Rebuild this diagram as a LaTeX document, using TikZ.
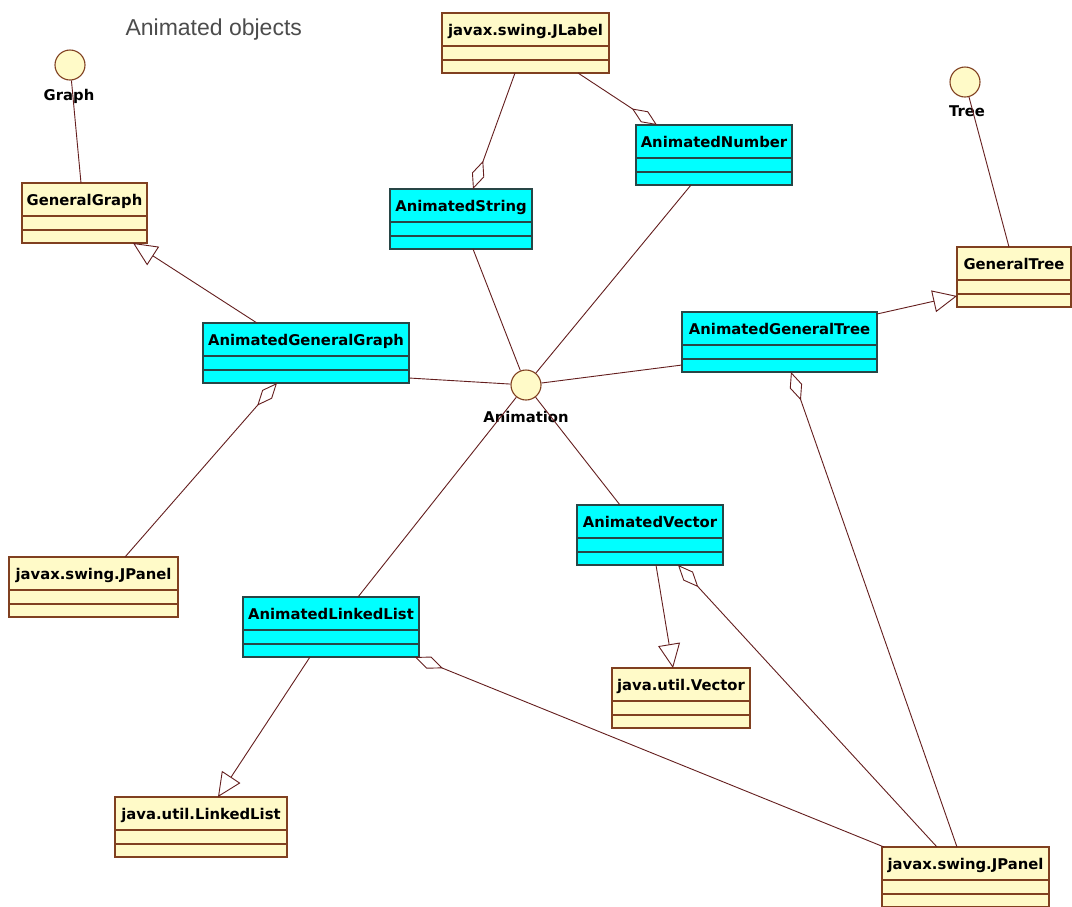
\documentclass[tikz,border=0pt]{standalone}
\usepackage{fontspec}
\setmainfont{DejaVu Sans}
\newfontfamily\titlefont{Liberation Sans}
\usetikzlibrary{arrows.meta,calc}
\definecolor{umlyellow}{RGB}{255,250,200}
\definecolor{umlcyan}{RGB}{0,255,255}
\definecolor{ybord}{RGB}{128,64,32}
\definecolor{cbord}{RGB}{40,70,70}
\definecolor{conn}{RGB}{100,30,30}
\tikzset{
  connline/.style={draw=conn, line width=0.9pt},
  gen/.style={connline, -{Triangle[open,length=24pt,width=22pt]}},
  agg/.style={connline, {Diamond[open,length=30pt,width=13pt]}-},
  iface/.style={circle, draw=ybord, fill=umlyellow, line width=1.1pt, minimum size=30pt, inner sep=0pt},
  lbl/.style={font=\bfseries\fontsize{14.8}{17}\selectfont, anchor=base},
}
% name, fill, border, x, y, width, text
\newcommand\umlbox[7]{%
  \node[draw=#3, fill=#2, line width=1.2pt, minimum width=#6pt, minimum height=60pt,
        anchor=north west, inner sep=0pt, outer sep=0pt] (#1) at (#4,#5) {};
  \node[lbl] at ([yshift=-22pt]#1.north) {#7};
  \draw[#3, line width=1.2pt] ([yshift=-33pt]#1.north west) -- ([yshift=-33pt]#1.north east);
  \draw[#3, line width=1.2pt] ([yshift=-47pt]#1.north west) -- ([yshift=-47pt]#1.north east);
}
\begin{document}
\begin{tikzpicture}[x=1pt,y=-1pt]
\fill[white] (0,0) rectangle (1072,906);
\useasboundingbox (0,0) rectangle (1072,906);

\node[anchor=base west, font=\titlefont\fontsize{23}{26}\selectfont, text=black!70] (title) at (122,35) {Animated objects};

% interfaces
\node[iface] (graphI) at (70,65) {};
\node[lbl] (graphL) at (69,100) {Graph};
\node[iface] (treeI) at (965,82) {};
\node[lbl] (treeL) at (967,116) {Tree};
\node[iface] (anim) at (526,385) {};
\node[lbl] (animL) at (526,422) {Animation};

% classes
\umlbox{GG}{umlyellow}{ybord}{22}{183}{125}{GeneralGraph}
\umlbox{JL}{umlyellow}{ybord}{442}{13}{167}{javax.swing.JLabel}
\umlbox{AN}{umlcyan}{cbord}{636}{125}{156}{AnimatedNumber}
\umlbox{AS}{umlcyan}{cbord}{390}{189}{142}{AnimatedString}
\umlbox{GT}{umlyellow}{ybord}{957}{247}{114}{GeneralTree}
\umlbox{AGG}{umlcyan}{cbord}{203}{323}{206}{AnimatedGeneralGraph}
\umlbox{AGT}{umlcyan}{cbord}{682}{312}{195}{AnimatedGeneralTree}
\umlbox{JPA}{umlyellow}{ybord}{9}{557}{169}{javax.swing.JPanel}
\umlbox{ALL}{umlcyan}{cbord}{243}{597}{176}{AnimatedLinkedList}
\umlbox{AV}{umlcyan}{cbord}{577}{505}{146}{AnimatedVector}
\umlbox{JV}{umlyellow}{ybord}{612}{668}{138}{java.util.Vector}
\umlbox{JLL}{umlyellow}{ybord}{115}{797}{172}{java.util.LinkedList}
\umlbox{JPB}{umlyellow}{ybord}{882}{847}{167}{javax.swing.JPanel}

% connectors
\draw[connline] (graphI) -- ([xshift=59pt]GG.north west);
\draw[connline] (treeI) -- ([xshift=52pt]GT.north west);
\draw[gen] ([xshift=54pt]AGG.north west) -- ([xshift=111pt]GG.south west);
\draw[agg] ([xshift=83pt]AS.north west) -- ([xshift=73pt]JL.south west);
\draw[agg] ([xshift=21pt]AN.north west) -- ([xshift=136pt]JL.south west);
\draw[connline] ([xshift=83pt]AS.south west) -- (anim);
\draw[connline] ([xshift=55pt]AN.south west) -- (anim);
\draw[connline] ([yshift=-55pt]AGG.north east) -- (anim);
\draw[connline] ([yshift=-53pt]AGT.north west) -- (anim);
\draw[gen] ([yshift=-2pt]AGT.north east) -- ([yshift=-49pt]GT.north west);
\draw[agg] ([xshift=74pt]AGG.south west) -- ([xshift=116pt]JPA.north west);
\draw[agg] ([xshift=109pt]AGT.south west) -- ([xshift=75pt]JPB.north west);
\draw[connline] (anim) -- ([xshift=115pt]ALL.north west);
\draw[connline] (anim) -- ([xshift=43pt]AV.north west);
\draw[gen] ([xshift=79pt]AV.south west) -- ([xshift=61pt]JV.north west);
\draw[agg] ([xshift=101pt]AV.south west) -- ([xshift=55pt]JPB.north west);
\draw[agg] ([xshift=172pt]ALL.south west) -- ([xshift=2pt]JPB.north west);
\draw[gen] ([xshift=67pt]ALL.south west) -- ([xshift=103pt]JLL.north west);
\end{tikzpicture}
\end{document}
